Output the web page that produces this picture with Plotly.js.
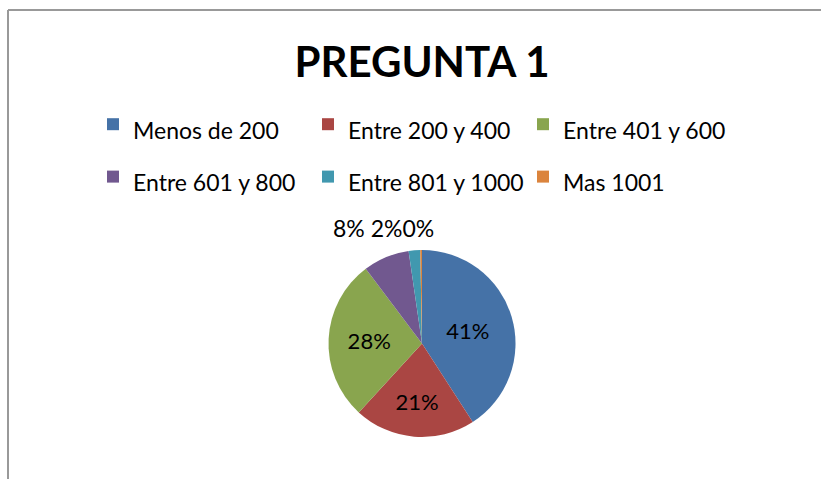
<!DOCTYPE html>
<html>
<head>
<meta charset="utf-8">
<script src="https://cdn.plot.ly/plotly-3.0.1.min.js"></script>
<style>html,body{margin:0;padding:0;background:#fff}#chart{width:821px;height:479px}</style>
</head>
<body>
<div id="chart"></div>
<script>
const categories = ["Menos de 200", "Entre 200 y 400", "Entre 401 y 600", "Entre 601 y 800", "Entre 801 y 1000", "Mas 1001"];
const values = [41, 21, 28, 8, 2, 0.3];
const colors = ["#4572A7", "#AA4643", "#89A54E", "#71588F", "#4198AF", "#DB843D"];
const textPositions = ["inside", "inside", "inside", "none", "none", "none"];

const W = 821, H = 479;
const FONT = "Lato, 'Liberation Sans', sans-serif";

const total = values.reduce((a, b) => a + b, 0);
const pct = values.map(v => Math.round(v / total * 100) + "%");
// small slices' labels sit above the pie, as in the reference
const smallLabel = pct[3] + " " + pct[4] + pct[5];

const trace = {
  type: "pie",
  labels: categories.map(c => '<span style="font-size:23px">' + c + '</span>'),
  values: values,
  sort: false,
  direction: "clockwise",
  rotation: 0,
  marker: {colors: colors, line: {width: 0}},
  texttemplate: "%{percent:.0%}",
  textposition: textPositions,
  textfont: {family: FONT, size: 22, color: "#000"},
  insidetextorientation: "horizontal",
  domain: {x: [(422 - 200) / W, (422 + 200) / W], y: [(H - 437) / H, (H - 250) / H]},
  hoverinfo: "label+percent"
};

const layout = {
  width: W, height: H,
  margin: {l: 0, r: 0, t: 0, b: 0},
  paper_bgcolor: "#fff",
  font: {family: FONT, color: "#000"},
  title: {text: "<b>PREGUNTA 1</b>", font: {family: FONT, size: 42, color: "#000"}, x: 422 / W, xanchor: "center", y: 1 - 62 / H, yanchor: "middle"},
  showlegend: true,
  legend: {
    orientation: "h",
    x: 93 / W, xanchor: "left",
    y: 1 - 93 / H, yanchor: "top",
    font: {family: FONT, size: 38, color: "#000"},
    entrywidth: 170,
    itemwidth: 30,
    traceorder: "normal"
  },
  annotations: [
    {text: smallLabel, xref: "paper", yref: "paper", x: 383 / W, y: 1 - 228 / H, xanchor: "center", yanchor: "middle", showarrow: false, font: {family: FONT, size: 23, color: "#000"}}
  ],
  shapes: [
    {type: "line", xref: "paper", yref: "paper", x0: 8 / W, x1: 8 / W, y0: 0, y1: 1 - 10 / H, line: {color: "#999", width: 2}},
    {type: "line", xref: "paper", yref: "paper", x0: 8 / W, x1: 1, y0: 1 - 10 / H, y1: 1 - 10 / H, line: {color: "#999", width: 2}}
  ]
};

Plotly.newPlot("chart", [trace], layout, {displayModeBar: false, staticPlot: true});
</script>
</body>
</html>
